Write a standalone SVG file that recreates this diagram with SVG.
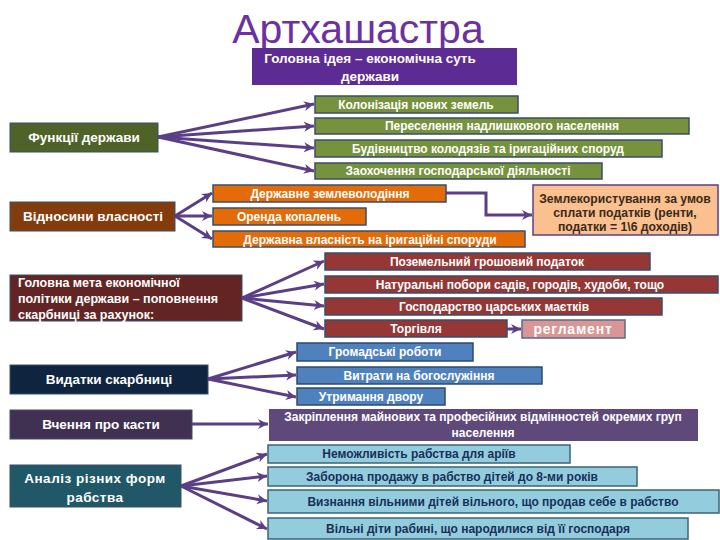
<svg xmlns="http://www.w3.org/2000/svg" width="720" height="540" viewBox="0 0 720 540">
<defs>
<marker id="ah" markerWidth="12" markerHeight="12" refX="10" refY="6" orient="auto" markerUnits="userSpaceOnUse">
<path d="M0,1 L10,6 L0,11 L3,6 z" fill="#5b3f86"/>
</marker>
<style>
text{font-family:"Liberation Sans",Arial,sans-serif;font-weight:bold;fill:#ffffff;text-anchor:middle;}
.l{text-anchor:start;}
.s{font-size:12px;}
.m{font-size:13.5px;}
.g rect{fill:#76923c;stroke:#3b4e6b;stroke-width:1.5;}
.o rect{fill:#e36c09;stroke:#3b4e6b;stroke-width:1.5;}
.r rect{fill:#953735;stroke:#3b4e6b;stroke-width:1.5;}
.b rect{fill:#4f81bd;stroke:#2c4a70;stroke-width:1.5;}
.c rect{fill:#93cddd;stroke:#3b6478;stroke-width:1.5;}
.c text{fill:#17305a;}
.conn path{fill:none;stroke:#5b3f86;stroke-width:3;marker-end:url(#ah);}
</style>
</defs>
<rect width="720" height="540" fill="#ffffff"/>

<g id="title">
<text x="358" y="43" style="font-size:41px;font-weight:normal;fill:#6b31a0">Артхашастра</text>
</g>
<g id="idea">
<rect x="252" y="48" width="265" height="37" fill="#5c2b94"/>
<text x="370" y="63" style="font-size:13.5px">Головна ідея – економічна суть</text>
<text x="370" y="81" style="font-size:13.5px">держави</text>
</g>

<g id="functions">
<rect x="10" y="123" width="148" height="29" fill="#4f6228" stroke="#3b4e6b" stroke-width="1"/>
<text x="84" y="142" class="m">Функції держави</text>
</g>
<g id="f1" class="g"><rect x="315" y="96" width="203" height="17"/><text x="416" y="109" class="s">Колонізація нових земель</text></g>
<g id="f2" class="g"><rect x="315" y="118" width="374" height="16"/><text x="502" y="130" class="s">Переселення надлишкового населення</text></g>
<g id="f3" class="g"><rect x="315" y="140" width="347" height="17"/><text x="488" y="153" class="s">Будівництво колодязів та іригаційних споруд</text></g>
<g id="f4" class="g"><rect x="315" y="163" width="287" height="16"/><text x="458" y="175" class="s">Заохочення господарської діяльності</text></g>

<g id="property">
<rect x="10" y="202" width="165" height="29" fill="#843c0c" stroke="#3b4e6b" stroke-width="1"/>
<text x="93" y="221" class="m">Відносини власності</text>
</g>
<g id="p1" class="o"><rect x="213" y="185" width="233" height="17"/><text x="330" y="198" class="s">Державне землеволодіння</text></g>
<g id="p2" class="o"><rect x="213" y="208" width="153" height="17"/><text x="289" y="221" class="s">Оренда копалень</text></g>
<g id="p3" class="o"><rect x="213" y="231" width="312" height="16"/><text x="370" y="244" class="s">Державна власність на іригаційні споруди</text></g>
<g id="landuse">
<rect x="533" y="185" width="185" height="50" fill="#fac08f" stroke="#5b3f86" stroke-width="1.5"/>
<text x="625" y="203" style="font-size:12.2px;fill:#3a2a1a">Землекористування за умов</text>
<text x="625" y="217" style="font-size:12.2px;fill:#3a2a1a">сплати податків (ренти,</text>
<text x="625" y="231" style="font-size:12.2px;fill:#3a2a1a">податки = 1\6 доходів)</text>
</g>

<g id="goal">
<rect x="10" y="275" width="232" height="46" fill="#632523" stroke="#3b4e6b" stroke-width="1"/>
<text x="18" y="287" class="l" style="font-size:12.5px">Головна мета економічної</text>
<text x="18" y="303" class="l" style="font-size:12.5px">політики держави – поповнення</text>
<text x="18" y="319" class="l" style="font-size:12.5px">скарбниці за рахунок:</text>
</g>
<g id="g1" class="r"><rect x="325" y="253" width="325" height="17"/><text x="487" y="266" class="s">Поземельний грошовий податок</text></g>
<g id="g2" class="r"><rect x="325" y="276" width="393" height="17"/><text x="520" y="289" class="s">Натуральні побори садів, городів, худоби, тощо</text></g>
<g id="g3" class="r"><rect x="325" y="298" width="337" height="17"/><text x="494" y="311" class="s">Господарство царських маєтків</text></g>
<g id="g4" class="r"><rect x="325" y="320" width="182" height="17"/><text x="416" y="333" class="s">Торгівля</text></g>
<g id="reglament">
<rect x="522" y="320" width="103" height="18" fill="#d99694" stroke="#5b6a8a" stroke-width="1.5"/>
<text x="573" y="334" style="font-size:14px;letter-spacing:0.8px">регламент</text>
</g>

<g id="expenses">
<rect x="10" y="365" width="198" height="29" fill="#0f243e" stroke="#3b4e6b" stroke-width="1"/>
<text x="109" y="384" class="m">Видатки скарбниці</text>
</g>
<g id="e1" class="b"><rect x="297" y="343" width="176" height="18"/><text x="385" y="356" class="s">Громадські роботи</text></g>
<g id="e2" class="b"><rect x="297" y="367" width="245" height="17"/><text x="419" y="380" class="s">Витрати на богослужіння</text></g>
<g id="e3" class="b"><rect x="297" y="388" width="148" height="17"/><text x="371" y="401" class="s">Утримання двору</text></g>

<g id="castes">
<rect x="10" y="410" width="182" height="29" fill="#403152" stroke="#3b4e6b" stroke-width="1"/>
<text x="101" y="429" class="m">Вчення про касти</text>
</g>
<g id="c1">
<rect x="269" y="409" width="429" height="32" fill="#5f497a"/>
<text x="483" y="421" class="s">Закріплення майнових та професійних відмінностей окремих груп</text>
<text x="483" y="437" class="s">населення</text>
</g>

<g id="slavery">
<rect x="10" y="465" width="171" height="42" fill="#215868" stroke="#3b4e6b" stroke-width="1"/>
<text x="95" y="483" class="m" style="letter-spacing:0.5px">Аналіз різних форм</text>
<text x="95" y="502" class="m" style="letter-spacing:0.5px">рабства</text>
</g>
<g id="s1" class="c"><rect x="268" y="445" width="302" height="18"/><text x="419" y="458" class="s">Неможливість рабства для аріїв</text></g>
<g id="s2" class="c"><rect x="268" y="467" width="369" height="19"/><text x="452" y="481" class="s">Заборона продажу в рабство дітей до 8-ми років</text></g>
<g id="s3" class="c"><rect x="268" y="490" width="451" height="23"/><text x="493" y="506" class="s">Визнання вільними дітей вільного, що продав себе в рабство</text></g>
<g id="s4" class="c"><rect x="268" y="518" width="420" height="21"/><text x="478" y="533" class="s">Вільні діти рабині, що народилися від її господаря</text></g>

<g id="connectors" class="conn">
<path d="M158,137 L314,104"/>
<path d="M158,137 L314,126"/>
<path d="M158,137 L314,148"/>
<path d="M158,137 L314,171"/>
<path d="M175,216 L212,193"/>
<path d="M175,216 L212,216"/>
<path d="M175,216 L212,239"/>
<path d="M446,193 H486 V215 H532"/>
<path d="M242,298 L324,261"/>
<path d="M242,298 L324,284"/>
<path d="M242,298 L324,306"/>
<path d="M242,298 L324,329"/>
<path d="M507,329 L521,329"/>
<path d="M208,379 L296,352"/>
<path d="M208,379 L296,375"/>
<path d="M208,379 L296,397"/>
<path d="M192,424 L268,424"/>
<path d="M181,486 L267,454"/>
<path d="M181,486 L267,476"/>
<path d="M181,486 L267,501"/>
<path d="M181,486 L267,529"/>
</g>
</svg>
